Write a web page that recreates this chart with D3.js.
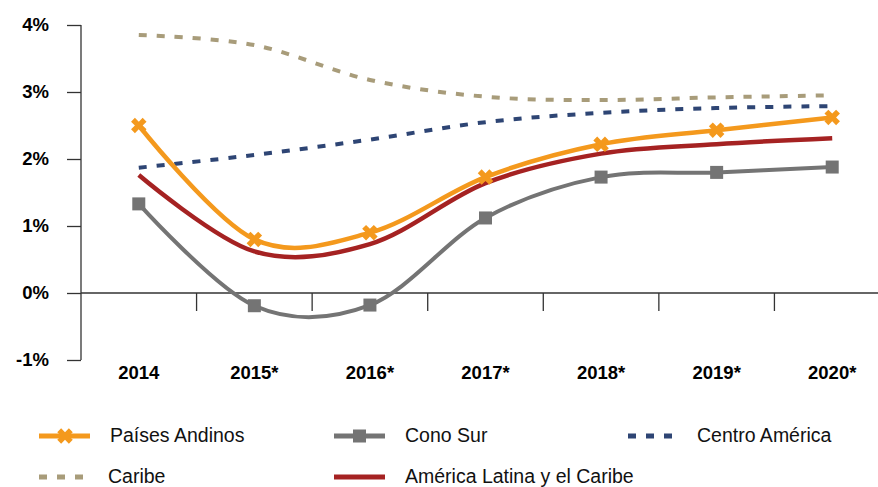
<!DOCTYPE html>
<html>
<head>
<meta charset="utf-8">
<script src="https://d3js.org/d3.v7.min.js"></script>
<style>
  body { margin: 0; background: white; }
  svg { display: block; }
</style>
</head>
<body>
<svg width="878" height="487"></svg>
<script>
// categories and values
var years = ["2014", "2015*", "2016*", "2017*", "2018*", "2019*", "2020*"];
var andinos = [2.5, 0.8, 0.9, 1.73, 2.22, 2.43, 2.62];
var conoSur = [1.33, -0.19, -0.18, 1.12, 1.73, 1.8, 1.88];
var centroAmerica = [1.87, 2.06, 2.29, 2.55, 2.69, 2.76, 2.79];
var caribe = [3.85, 3.7, 3.18, 2.93, 2.88, 2.92, 2.95];
var latam = [1.76, 0.62, 0.73, 1.64, 2.08, 2.22, 2.31];
var yTicks = [-1, 0, 1, 2, 3, 4];

var svg = d3.select("svg");

// scales
var x = d3.scaleBand().domain(years).range([81, 890]);
var y = d3.scaleLinear().domain([-1, 4]).range([360, 25]);

// y axis
var yAxis = svg.append("g")
    .attr("transform", "translate(81,0)")
    .call(d3.axisLeft(y).tickValues(yTicks).tickSize(14).tickPadding(18)
        .tickFormat(function(d) { return d + "%"; }));
yAxis.selectAll("text")
    .style("font-family", "Liberation Sans, Arial, sans-serif")
    .style("font-size", "18.5px")
    .style("font-weight", "bold")
    .attr("fill", "#000");
yAxis.selectAll("line, path").attr("stroke", "#333").attr("stroke-width", 1.3);
yAxis.select(".domain").attr("d", "M0," + y(4) + "V" + y(-1));

// x axis sits on the 0% line
var xAxis = svg.append("g")
    .attr("transform", "translate(0," + y(0) + ")")
    .call(d3.axisBottom(x).tickSize(0).tickPadding(73));
xAxis.select(".domain").attr("d", "M81,0H890").attr("stroke", "#333").attr("stroke-width", 1.3);
xAxis.selectAll("text")
    .style("font-family", "Liberation Sans, Arial, sans-serif")
    .style("font-size", "18.5px")
    .style("font-weight", "bold")
    .attr("fill", "#000");
// tick marks between categories
xAxis.selectAll(".sep")
    .data(years.slice(1))
    .enter().append("line")
    .attr("x1", function(d) { return x(d); })
    .attr("x2", function(d) { return x(d); })
    .attr("y1", 0).attr("y2", 18)
    .attr("stroke", "#333").attr("stroke-width", 1.3);

var line = d3.line()
    .x(function(d, i) { return x(years[i]) + x.bandwidth() / 2; })
    .y(function(d) { return y(d); })
    .curve(d3.curveCardinal.tension(0));

var series = [
    { name: "Caribe", values: caribe, color: "#a89c7a", width: 4, dash: "8,10" },
    { name: "Centro América", values: centroAmerica, color: "#2e4574", width: 4, dash: "8,10" },
    { name: "Cono Sur", values: conoSur, color: "#747474", width: 4, dash: null },
    { name: "América Latina y el Caribe", values: latam, color: "#a52222", width: 4.5, dash: null },
    { name: "Países Andinos", values: andinos, color: "#f4991d", width: 4.5, dash: null }
];

series.forEach(function(s) {
    svg.append("path")
        .datum(s.values)
        .attr("d", line)
        .attr("fill", "none")
        .attr("stroke", s.color)
        .attr("stroke-width", s.width)
        .attr("stroke-dasharray", s.dash);
});

// square markers for Cono Sur
svg.append("g").selectAll("rect")
    .data(conoSur)
    .enter().append("rect")
    .attr("x", function(d, i) { return x(years[i]) + x.bandwidth() / 2 - 6.5; })
    .attr("y", function(d) { return y(d) - 6.5; })
    .attr("width", 13).attr("height", 13)
    .attr("fill", "#747474");

// cross markers for Países Andinos
var cross = d3.symbol().type(d3.symbolCross).size(150);
svg.append("g").selectAll("path")
    .data(andinos)
    .enter().append("path")
    .attr("d", cross)
    .attr("transform", function(d, i) {
        return "translate(" + (x(years[i]) + x.bandwidth() / 2) + "," + y(d) + ") rotate(45)";
    })
    .attr("fill", "#f4991d");

// legend
var legend = [
    { name: "Países Andinos", color: "#f4991d", dash: null, mark: "x", lx: 39, ly: 436 },
    { name: "Cono Sur", color: "#747474", dash: null, mark: "sq", lx: 334, ly: 436 },
    { name: "Centro América", color: "#2e4574", dash: "8,10", mark: null, lx: 628, ly: 436 },
    { name: "Caribe", color: "#a89c7a", dash: "8,10", mark: null, lx: 39, ly: 477 },
    { name: "América Latina y el Caribe", color: "#a52222", dash: null, mark: null, lx: 334, ly: 477 }
];

legend.forEach(function(l) {
    var g = svg.append("g").attr("transform", "translate(" + l.lx + "," + l.ly + ")");
    g.append("line")
        .attr("x1", 0).attr("x2", l.dash ? 46 : 51)
        .attr("y1", 0).attr("y2", 0)
        .attr("stroke", l.color).attr("stroke-width", 5)
        .attr("stroke-dasharray", l.dash);
    if (l.mark === "x") {
        g.append("path").attr("d", cross)
            .attr("transform", "translate(26,0) rotate(45)")
            .attr("fill", l.color);
    }
    if (l.mark === "sq") {
        g.append("rect").attr("x", 19).attr("y", -6.5).attr("width", 13).attr("height", 13)
            .attr("fill", l.color);
    }
    g.append("text")
        .attr("x", l.dash ? 69 : 71)
        .attr("y", 6)
        .style("font-family", "Liberation Sans Narrow, Liberation Sans, Arial, sans-serif")
        .style("font-size", "19.5px")
        .attr("fill", "#111")
        .text(l.name);
});
</script>
</body>
</html>
